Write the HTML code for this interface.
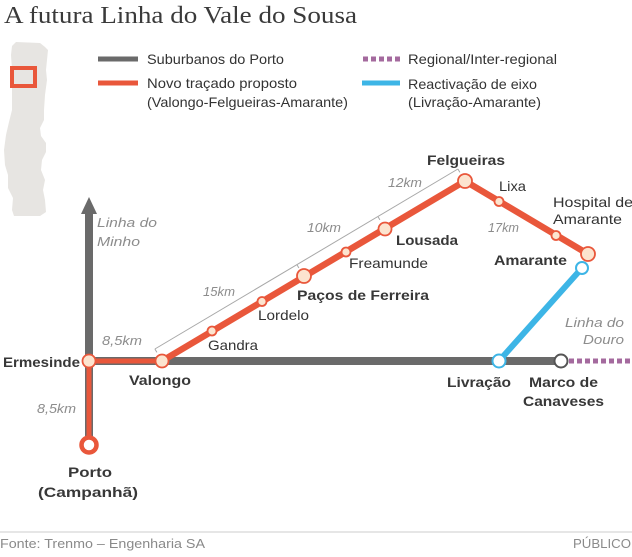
<!DOCTYPE html>
<html><head><meta charset="utf-8"><style>
html,body{margin:0;padding:0;background:#fff;}
svg{display:block;}
text{font-family:"Liberation Sans",sans-serif;}
.st{font-size:14px;fill:#333;}
.b{font-weight:bold;fill:#383838;}
.km{font-size:13px;font-style:italic;fill:#8c8c8c;}
.lg{font-size:14px;fill:#333;}
</style></head><body>
<svg width="632" height="557" viewBox="0 0 632 557" xmlns="http://www.w3.org/2000/svg">
<rect width="632" height="557" fill="#fff"/>
<!-- title -->
<text x="4" y="23" style="font-family:'Liberation Serif',serif" font-size="24" fill="#3a3a3a" textLength="353" lengthAdjust="spacingAndGlyphs">A futura Linha do Vale do Sousa</text>

<!-- Portugal map -->
<polygon fill="#e7e5e2" points="12,46 16,42 40,43 45,47 48,50 47,60 46,70 47,80 45,95 44,110 44,120 40,128 41,136 46,143 46,152 42,160 41,170 45,180 43,190 45,200 46,212 40,216 14,216 12,210 13,198 8,188 8,175 5,165 4,150 6,135 9,122 12,110 12,95 12,70 11,55"/>
<rect x="12" y="68" width="23" height="18" fill="#e7e5e2" stroke="#e9573b" stroke-width="4"/>

<!-- legend -->
<line x1="98" y1="59" x2="138" y2="59" stroke="#6a6a6a" stroke-width="5"/>
<text class="lg" x="147" y="64" textLength="137" lengthAdjust="spacingAndGlyphs">Suburbanos do Porto</text>
<line x1="98" y1="83" x2="138" y2="83" stroke="#e9573b" stroke-width="5"/>
<text class="lg" x="147" y="88" textLength="150" lengthAdjust="spacingAndGlyphs">Novo traçado proposto</text>
<text class="lg" x="147" y="107" textLength="201" lengthAdjust="spacingAndGlyphs">(Valongo-Felgueiras-Amarante)</text>
<line x1="363" y1="59" x2="400" y2="59" stroke="#a46a9e" stroke-width="5" stroke-dasharray="5,3"/>
<text class="lg" x="408" y="64" textLength="149" lengthAdjust="spacingAndGlyphs">Regional/Inter-regional</text>
<line x1="362" y1="83" x2="400" y2="83" stroke="#3db5e6" stroke-width="5"/>
<text class="lg" x="408" y="89" textLength="129" lengthAdjust="spacingAndGlyphs">Reactivação de eixo</text>
<text class="lg" x="408" y="107" textLength="133" lengthAdjust="spacingAndGlyphs">(Livração-Amarante)</text>

<!-- bracket -->
<g stroke="#a8a8a8" stroke-width="1" fill="none">
<line x1="154.9" y1="349" x2="457.9" y2="169"/>
<line x1="154.9" y1="349" x2="156.9" y2="352.4"/>
<line x1="296.9" y1="264.6" x2="298.9" y2="268"/>
<line x1="377.9" y1="216.5" x2="379.9" y2="219.9"/>
<line x1="457.9" y1="169" x2="459.9" y2="172.4"/>
</g>

<!-- grey lines -->
<line x1="89" y1="361" x2="561" y2="361" stroke="#6a6a6a" stroke-width="8"/>
<line x1="89" y1="212" x2="89" y2="445" stroke="#6a6a6a" stroke-width="8"/>
<polygon points="89,197 81,214 97,214" fill="#6a6a6a"/>
<!-- purple dotted -->
<line x1="569" y1="361" x2="632" y2="361" stroke="#a46a9e" stroke-width="5" stroke-dasharray="5,3"/>

<!-- orange -->
<line x1="89" y1="361" x2="162" y2="361" stroke="#e9573b" stroke-width="5"/>
<line x1="89" y1="361" x2="89" y2="445" stroke="#e9573b" stroke-width="5"/>
<polyline points="162,361 465,181 588,254" fill="none" stroke="#e9573b" stroke-width="6.5" stroke-linejoin="round"/>

<!-- blue -->
<line x1="499" y1="361" x2="582" y2="268" stroke="#3db5e6" stroke-width="6"/>

<!-- stations -->
<g fill="#fce4cf" stroke="#e9573b" stroke-width="1.8">
<circle cx="89" cy="361" r="6.5"/>
<circle cx="162" cy="361" r="6.5"/>
<circle cx="304" cy="276" r="7"/>
<circle cx="385" cy="229" r="6.5"/>
<circle cx="465" cy="181" r="7"/>
<circle cx="588" cy="254" r="7"/>
<circle cx="212" cy="331" r="4.5"/>
<circle cx="262" cy="301.5" r="4.5"/>
<circle cx="346" cy="252" r="4.5"/>
<circle cx="499" cy="201.5" r="4.5"/>
<circle cx="556" cy="235.5" r="4.5"/>
</g>
<circle cx="89" cy="445" r="7.5" fill="#fff" stroke="#e9573b" stroke-width="4.5"/>
<circle cx="499" cy="361" r="6.5" fill="#fff" stroke="#3db5e6" stroke-width="2"/>
<circle cx="582" cy="268" r="6" fill="#fff" stroke="#3db5e6" stroke-width="2"/>
<circle cx="561" cy="361" r="6.5" fill="#fff" stroke="#555" stroke-width="2"/>

<!-- station labels -->
<text class="st b" x="3" y="367" textLength="77" lengthAdjust="spacingAndGlyphs">Ermesinde</text>
<text class="st b" x="129" y="385" textLength="62" lengthAdjust="spacingAndGlyphs">Valongo</text>
<text class="st" x="208" y="350" textLength="50" lengthAdjust="spacingAndGlyphs">Gandra</text>
<text class="st" x="258" y="320" textLength="51" lengthAdjust="spacingAndGlyphs">Lordelo</text>
<text class="st b" x="297" y="300" textLength="132" lengthAdjust="spacingAndGlyphs">Paços de Ferreira</text>
<text class="st" x="349" y="268" textLength="79" lengthAdjust="spacingAndGlyphs">Freamunde</text>
<text class="st b" x="396" y="245" textLength="62" lengthAdjust="spacingAndGlyphs">Lousada</text>
<text class="st b" x="427" y="165" textLength="78" lengthAdjust="spacingAndGlyphs">Felgueiras</text>
<text class="st" x="499" y="191" textLength="27" lengthAdjust="spacingAndGlyphs">Lixa</text>
<text class="st" x="553" y="207" textLength="80" lengthAdjust="spacingAndGlyphs">Hospital de</text>
<text class="st" x="553" y="224" textLength="69" lengthAdjust="spacingAndGlyphs">Amarante</text>
<text class="st b" x="494" y="265" textLength="73" lengthAdjust="spacingAndGlyphs">Amarante</text>
<text class="st b" x="447" y="387" textLength="64" lengthAdjust="spacingAndGlyphs">Livração</text>
<text class="st b" x="529" y="387" textLength="69" lengthAdjust="spacingAndGlyphs">Marco de</text>
<text class="st b" x="523" y="406" textLength="81" lengthAdjust="spacingAndGlyphs">Canaveses</text>
<text class="st b" x="68" y="477" textLength="44" lengthAdjust="spacingAndGlyphs">Porto</text>
<text class="st b" x="38" y="497" textLength="100" lengthAdjust="spacingAndGlyphs">(Campanhã)</text>

<!-- line names -->
<text class="km" x="97" y="227" textLength="60" lengthAdjust="spacingAndGlyphs">Linha do</text>
<text class="km" x="97" y="246" textLength="43" lengthAdjust="spacingAndGlyphs">Minho</text>
<text class="km" x="565" y="327" textLength="59" lengthAdjust="spacingAndGlyphs">Linha do</text>
<text class="km" x="583" y="344" textLength="41" lengthAdjust="spacingAndGlyphs">Douro</text>

<!-- km labels -->
<text class="km" x="388" y="187" textLength="34" lengthAdjust="spacingAndGlyphs">12km</text>
<text class="km" x="307" y="232" textLength="34" lengthAdjust="spacingAndGlyphs">10km</text>
<text class="km" x="203" y="296" textLength="32" lengthAdjust="spacingAndGlyphs">15km</text>
<text class="km" x="488" y="232" textLength="31" lengthAdjust="spacingAndGlyphs">17km</text>
<text class="km" x="102" y="345" textLength="40" lengthAdjust="spacingAndGlyphs">8,5km</text>
<text class="km" x="37" y="413" textLength="39" lengthAdjust="spacingAndGlyphs">8,5km</text>

<!-- footer -->
<line x1="0" y1="532" x2="632" y2="532" stroke="#dddddd" stroke-width="1.5"/>
<text x="0" y="548" font-size="13" fill="#8a8a8a" textLength="205" lengthAdjust="spacingAndGlyphs">Fonte: Trenmo – Engenharia SA</text>
<text x="573" y="548" font-size="13" fill="#8a8a8a" textLength="58" lengthAdjust="spacingAndGlyphs">PÚBLICO</text>
</svg>
</body></html>
